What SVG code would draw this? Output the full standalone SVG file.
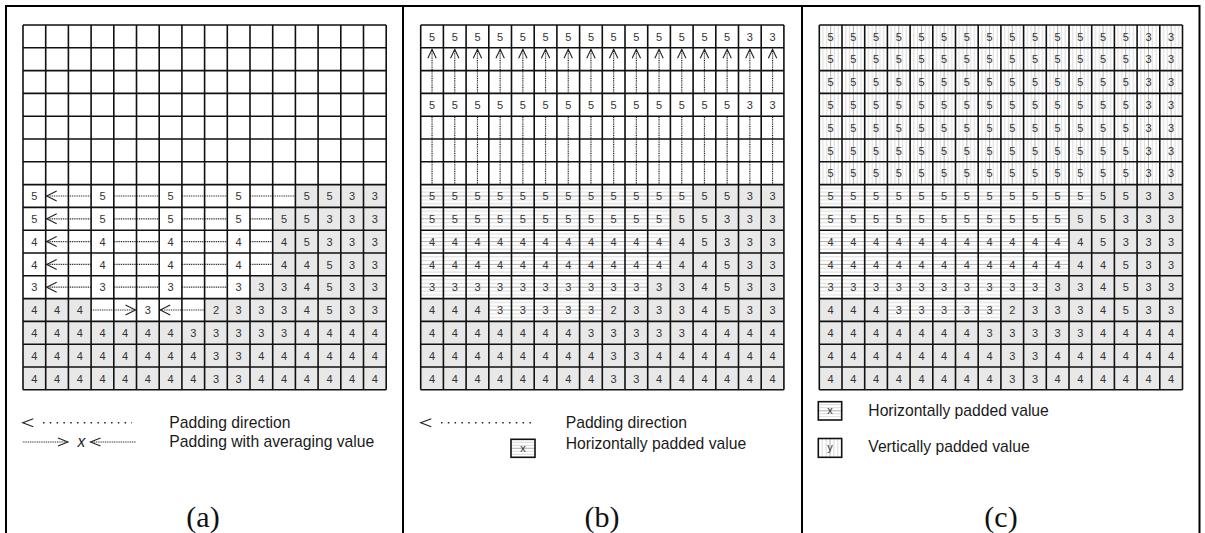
<svg xmlns="http://www.w3.org/2000/svg" xmlns:xlink="http://www.w3.org/1999/xlink" width="1205" height="533" viewBox="0 0 1205 533">
<style>
.grid{fill:none;stroke:#111;stroke-width:1.6}
.num{font-family:"Liberation Sans",Arial,sans-serif;font-size:11px;fill:#333;text-anchor:middle}
.dot{fill:none;stroke:#222;stroke-width:1.2;stroke-dasharray:1 0.8}
.sparse{fill:none;stroke:#222;stroke-width:1.5;stroke-dasharray:1.5 5.3}
.head{fill:none;stroke:#222;stroke-width:1.1}
.leg{font-family:"Liberation Sans",Arial,sans-serif;font-size:15.7px;fill:#1a1a1a}
.cap{font-family:"Liberation Serif","Times New Roman",serif;font-size:30px;fill:#111;text-anchor:middle}
.frame{fill:none;stroke:#000;stroke-width:2}
.grey{fill:#e8e8e8}
</style>
<defs>
  <!-- horizontal padding hatch, one band per cell row -->
  <pattern id="hpad" patternUnits="userSpaceOnUse" width="22.7" height="22.8">
    <rect width="22.7" height="22.8" fill="#fff"/>
    <path d="M0 3.8H22.7M0 7.6H22.7M0 15.2H22.7M0 19H22.7" stroke="#cfcfcf" stroke-width="0.8"/>
    <path d="M0 11.4H22.7" stroke="#9a9a9a" stroke-width="0.8"/>
  </pattern>
  <!-- vertical padding hatch, one band per cell column -->
  <pattern id="vpad" patternUnits="userSpaceOnUse" width="22.7" height="22.8">
    <rect width="22.7" height="22.8" fill="#fff"/>
    <path d="M3.8 0V22.8M7.6 0V22.8M15.1 0V22.8M18.9 0V22.8" stroke="#cfcfcf" stroke-width="0.8"/>
    <path d="M11.35 0V22.8" stroke="#9a9a9a" stroke-width="0.8"/>
  </pattern>
  <!-- 16 x 16 block grid -->
  <path id="grid" class="grid" d="M0 0V364.8M22.7 0V364.8M45.4 0V364.8M68.1 0V364.8M90.8 0V364.8M113.5 0V364.8M136.2 0V364.8M158.9 0V364.8M181.6 0V364.8M204.3 0V364.8M227 0V364.8M249.7 0V364.8M272.4 0V364.8M295.1 0V364.8M317.8 0V364.8M340.5 0V364.8M363.2 0V364.8M0 0H363.2M0 22.8H363.2M0 45.6H363.2M0 68.4H363.2M0 91.2H363.2M0 114H363.2M0 136.8H363.2M0 159.6H363.2M0 182.4H363.2M0 205.2H363.2M0 228H363.2M0 250.8H363.2M0 273.6H363.2M0 296.4H363.2M0 319.2H363.2M0 342H363.2M0 364.8H363.2"/>
  <!-- known (opaque) pixels of the boundary block -->
  <g id="known" class="grey">
    <rect x="272.4" y="159.6" width="90.8" height="22.8"/>
    <rect x="249.7" y="182.4" width="113.5" height="68.4"/>
    <rect x="227" y="250.8" width="136.2" height="22.8"/>
    <rect x="0" y="273.6" width="68.1" height="22.8"/>
    <rect x="181.6" y="273.6" width="181.6" height="22.8"/>
    <rect x="0" y="296.4" width="363.2" height="68.4"/>
  </g>
  <!-- horizontally padded cells -->
  <g id="hcells" fill="url(#hpad)">
    <rect x="0" y="159.6" width="272.4" height="22.8"/>
    <rect x="0" y="182.4" width="249.7" height="68.4"/>
    <rect x="0" y="250.8" width="227" height="22.8"/>
    <rect x="68.1" y="273.6" width="113.5" height="22.8"/>
  </g>
  <!-- values of the lower rows after horizontal padding -->
  <g id="hvals" class="num">
    <text x="11.35 34.05 56.75 79.45 102.15 124.85 147.55 170.25 192.95 215.65 238.35 261.05 283.75 306.45 329.15 351.85" y="175.1">5555555555555533</text>
    <text x="11.35 34.05 56.75 79.45 102.15 124.85 147.55 170.25 192.95 215.65 238.35 261.05 283.75 306.45 329.15 351.85" y="197.9">5555555555555333</text>
    <text x="11.35 34.05 56.75 79.45 102.15 124.85 147.55 170.25 192.95 215.65 238.35 261.05 283.75 306.45 329.15 351.85" y="220.7">4444444444445333</text>
    <text x="11.35 34.05 56.75 79.45 102.15 124.85 147.55 170.25 192.95 215.65 238.35 261.05 283.75 306.45 329.15 351.85" y="243.5">4444444444444533</text>
    <text x="11.35 34.05 56.75 79.45 102.15 124.85 147.55 170.25 192.95 215.65 238.35 261.05 283.75 306.45 329.15 351.85" y="266.3">3333333333334533</text>
    <text x="11.35 34.05 56.75 79.45 102.15 124.85 147.55 170.25 192.95 215.65 238.35 261.05 283.75 306.45 329.15 351.85" y="289.1">4443333323334533</text>
  </g>
  <g id="bottom" class="num">
    <text x="11.35 34.05 56.75 79.45 102.15 124.85 147.55 170.25 192.95 215.65 238.35 261.05 283.75 306.45 329.15 351.85" y="311.9">4444444333334444</text>
    <text x="11.35 34.05 56.75 79.45 102.15 124.85 147.55 170.25 192.95 215.65 238.35 261.05 283.75 306.45 329.15 351.85" y="334.7">4444444433444444</text>
    <text x="11.35 34.05 56.75 79.45 102.15 124.85 147.55 170.25 192.95 215.65 238.35 261.05 283.75 306.45 329.15 351.85" y="357.5">4444444433444444</text>
  </g>
</defs>

<!-- panel frame and dividers -->
<g id="frame" class="frame">
  <path d="M6 533V6H1199.5V533"/>
  <path d="M403 6V533M802 6V533"/>
</g>

<!-- (a) horizontal padding of the boundary block -->
<g id="panel-a" transform="translate(23,25)">
  <use xlink:href="#known"/>
  <g class="num">
    <text x="11.35 79.45 147.55 215.65 283.75 306.45 329.15 351.85" y="175.1">55555533</text>
    <text x="11.35 79.45 147.55 215.65 261.05 283.75 306.45 329.15 351.85" y="197.9">555555333</text>
    <text x="11.35 79.45 147.55 215.65 261.05 283.75 306.45 329.15 351.85" y="220.7">444445333</text>
    <text x="11.35 79.45 147.55 215.65 261.05 283.75 306.45 329.15 351.85" y="243.5">444444533</text>
    <text x="11.35 79.45 147.55 215.65 238.35 261.05 283.75 306.45 329.15 351.85" y="266.3">3333334533</text>
    <text x="11.35 34.05 56.75 124.85 192.95 215.65 238.35 261.05 283.75 306.45 329.15 351.85" y="289.1">444323334533</text>
  </g>
  <use xlink:href="#bottom"/>
  <g id="a-connectors">
    <path class="dot" d="M23.7 171H68.1M90.8 171H136.2M158.9 171H204.3M227 171H272.4
      M23.7 193.8H68.1M90.8 193.8H136.2M158.9 193.8H204.3M227 193.8H249.7
      M23.7 216.6H68.1M90.8 216.6H136.2M158.9 216.6H204.3M227 216.6H249.7
      M23.7 239.4H68.1M90.8 239.4H136.2M158.9 239.4H204.3M227 239.4H249.7
      M23.7 262.2H68.1M90.8 262.2H136.2M158.9 262.2H204.3
      M68.1 285H112.5M137.2 285H181.6"/>
    <path class="head" d="M33.7 166L23.7 171L33.7 176M33.7 188.8L23.7 193.8L33.7 198.8M33.7 211.6L23.7 216.6L33.7 221.6M33.7 234.4L23.7 239.4L33.7 244.4M33.7 257.2L23.7 262.2L33.7 267.2M102.5 280L112.5 285L102.5 290M147.2 280L137.2 285L147.2 290"/>
  </g>
  <use xlink:href="#grid"/>
</g>

<!-- (b) vertical padding direction after horizontal padding -->
<g id="panel-b" transform="translate(420.7,25)">
  <use xlink:href="#known"/>
  <use xlink:href="#hcells"/>
  <g class="num">
    <text x="11.35 34.05 56.75 79.45 102.15 124.85 147.55 170.25 192.95 215.65 238.35 261.05 283.75 306.45 329.15 351.85" y="15.5">5555555555555533</text>
    <text x="11.35 34.05 56.75 79.45 102.15 124.85 147.55 170.25 192.95 215.65 238.35 261.05 283.75 306.45 329.15 351.85" y="83.9">5555555555555533</text>
  </g>
  <use xlink:href="#hvals"/>
  <use xlink:href="#bottom"/>
  <g id="b-connectors">
    <path class="dot" d="M11.35 159.6V91.2M11.35 68.4V24.8M34.05 159.6V91.2M34.05 68.4V24.8M56.75 159.6V91.2M56.75 68.4V24.8M79.45 159.6V91.2M79.45 68.4V24.8M102.15 159.6V91.2M102.15 68.4V24.8M124.85 159.6V91.2M124.85 68.4V24.8M147.55 159.6V91.2M147.55 68.4V24.8M170.25 159.6V91.2M170.25 68.4V24.8M192.95 159.6V91.2M192.95 68.4V24.8M215.65 159.6V91.2M215.65 68.4V24.8M238.35 159.6V91.2M238.35 68.4V24.8M261.05 159.6V91.2M261.05 68.4V24.8M283.75 159.6V91.2M283.75 68.4V24.8M306.45 159.6V91.2M306.45 68.4V24.8M329.15 159.6V91.2M329.15 68.4V24.8M351.85 159.6V91.2M351.85 68.4V24.8"/>
    <path class="head" d="M7.15 33.3L11.35 24.3L15.55 33.3M29.85 33.3L34.05 24.3L38.25 33.3M52.55 33.3L56.75 24.3L60.95 33.3M75.25 33.3L79.45 24.3L83.65 33.3M97.95 33.3L102.15 24.3L106.35 33.3M120.65 33.3L124.85 24.3L129.05 33.3M143.35 33.3L147.55 24.3L151.75 33.3M166.05 33.3L170.25 24.3L174.45 33.3M188.75 33.3L192.95 24.3L197.15 33.3M211.45 33.3L215.65 24.3L219.85 33.3M234.15 33.3L238.35 24.3L242.55 33.3M256.85 33.3L261.05 24.3L265.25 33.3M279.55 33.3L283.75 24.3L287.95 33.3M302.25 33.3L306.45 24.3L310.65 33.3M324.95 33.3L329.15 24.3L333.35 33.3M347.65 33.3L351.85 24.3L356.05 33.3"/>
  </g>
  <use xlink:href="#grid"/>
</g>

<!-- (c) fully padded block -->
<g id="panel-c" transform="translate(819.3,25)">
  <use xlink:href="#known"/>
  <use xlink:href="#hcells"/>
  <rect x="0" y="0" width="363.2" height="159.6" fill="url(#vpad)"/>
  <g class="num">
    <text x="11.35 34.05 56.75 79.45 102.15 124.85 147.55 170.25 192.95 215.65 238.35 261.05 283.75 306.45 329.15 351.85" y="15.5">5555555555555533</text>
    <text x="11.35 34.05 56.75 79.45 102.15 124.85 147.55 170.25 192.95 215.65 238.35 261.05 283.75 306.45 329.15 351.85" y="38.3">5555555555555533</text>
    <text x="11.35 34.05 56.75 79.45 102.15 124.85 147.55 170.25 192.95 215.65 238.35 261.05 283.75 306.45 329.15 351.85" y="61.1">5555555555555533</text>
    <text x="11.35 34.05 56.75 79.45 102.15 124.85 147.55 170.25 192.95 215.65 238.35 261.05 283.75 306.45 329.15 351.85" y="83.9">5555555555555533</text>
    <text x="11.35 34.05 56.75 79.45 102.15 124.85 147.55 170.25 192.95 215.65 238.35 261.05 283.75 306.45 329.15 351.85" y="106.7">5555555555555533</text>
    <text x="11.35 34.05 56.75 79.45 102.15 124.85 147.55 170.25 192.95 215.65 238.35 261.05 283.75 306.45 329.15 351.85" y="129.5">5555555555555533</text>
    <text x="11.35 34.05 56.75 79.45 102.15 124.85 147.55 170.25 192.95 215.65 238.35 261.05 283.75 306.45 329.15 351.85" y="152.3">5555555555555533</text>
  </g>
  <use xlink:href="#hvals"/>
  <use xlink:href="#bottom"/>
  <use xlink:href="#grid"/>
</g>

<!-- legend (a) -->
<g id="legend-a">
  <path class="head" d="M33.3 418.7L22.7 422.7L33.3 426.7"/>
  <path class="sparse" d="M43 422.7H132"/>
  <text class="leg" x="169.3" y="427.7">Padding direction</text>
  <path class="dot" d="M22.7 442H68"/>
  <path class="head" d="M58 438L68 442L58 446"/>
  <text class="leg" x="77.5" y="447" font-style="italic">x</text>
  <path class="head" d="M100.5 438L90.5 442L100.5 446"/>
  <path class="dot" d="M90.5 442H136"/>
  <text class="leg" x="169.3" y="446.7">Padding with averaging value</text>
</g>

<!-- legend (b) -->
<g id="legend-b">
  <path class="head" d="M431.3 418.7L420.7 422.7L431.3 426.7"/>
  <path class="sparse" d="M441 422.7H532"/>
  <text class="leg" x="565.7" y="427.7">Padding direction</text>
  <g transform="translate(511,439.3)">
    <rect width="24" height="18" fill="#fff"/>
    <path d="M0 3H24M0 6H24M0 12H24M0 15H24" stroke="#cfcfcf" stroke-width="0.8"/>
    <path d="M0 9H24" stroke="#9a9a9a" stroke-width="0.8"/>
    <rect width="24" height="18" class="grid"/>
    <text class="num" x="12" y="12.5" font-size="10px">x</text>
  </g>
  <text class="leg" x="565.7" y="449.3">Horizontally padded value</text>
</g>

<!-- legend (c) -->
<g id="legend-c">
  <g transform="translate(818.3,401.7)">
    <rect width="23.4" height="18.3" fill="#fff"/>
    <path d="M0 3H23.4M0 6H23.4M0 12H23.4M0 15H23.4" stroke="#cfcfcf" stroke-width="0.8"/>
    <path d="M0 9.1H23.4" stroke="#9a9a9a" stroke-width="0.8"/>
    <rect width="23.4" height="18.3" class="grid"/>
    <text class="num" x="11.7" y="12.6" font-size="10px">x</text>
  </g>
  <text class="leg" x="868.3" y="416">Horizontally padded value</text>
  <g transform="translate(818.3,438.5)">
    <rect width="23.4" height="18.8" fill="#fff"/>
    <path d="M3.9 0V18.8M7.8 0V18.8M15.6 0V18.8M19.5 0V18.8" stroke="#cfcfcf" stroke-width="0.8"/>
    <path d="M11.7 0V18.8" stroke="#9a9a9a" stroke-width="0.8"/>
    <rect width="23.4" height="18.8" class="grid"/>
    <text class="num" x="11.7" y="12.8" font-size="10px">y</text>
  </g>
  <text class="leg" x="868.3" y="451.7">Vertically padded value</text>
</g>

<!-- captions -->
<text class="cap" x="203" y="527">(a)</text>
<text class="cap" x="602" y="527">(b)</text>
<text class="cap" x="1001" y="527">(c)</text>
</svg>
